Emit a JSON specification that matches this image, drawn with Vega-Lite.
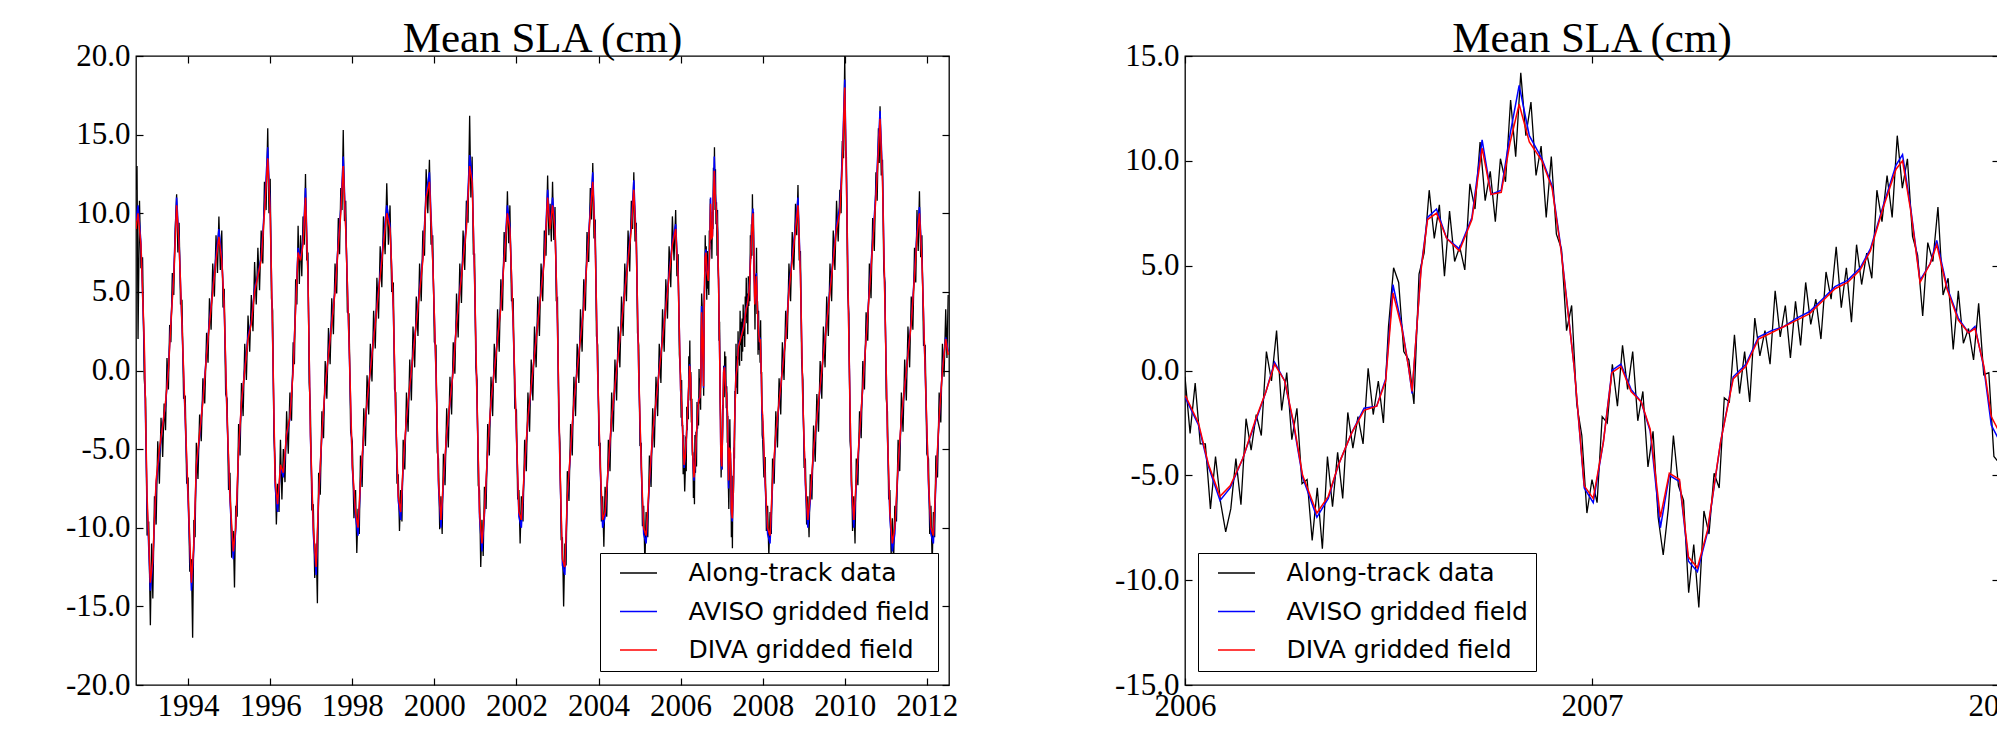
{
"$schema":"https://vega.github.io/schema/vega-lite/v6.json",
"background":"white",
"padding":{"left":64,"top":17,"right":0,"bottom":0},
"datasets":{
"rk":[{"t":2006.0,"v":-0.3},{"t":2006.0125,"v":-3.0},{"t":2006.025,"v":-0.6},{"t":2006.0375,"v":-3.5},{"t":2006.05,"v":-3.5},{"t":2006.0625,"v":-6.6},{"t":2006.075,"v":-4.1},{"t":2006.0875,"v":-6.3},{"t":2006.1,"v":-7.7},{"t":2006.1125,"v":-6.6},{"t":2006.125,"v":-4.2},{"t":2006.1375,"v":-6.4},{"t":2006.15,"v":-2.3},{"t":2006.1625,"v":-3.8},{"t":2006.175,"v":-2.1},{"t":2006.1875,"v":-3.1},{"t":2006.2,"v":0.9},{"t":2006.2125,"v":-0.5},{"t":2006.225,"v":1.9},{"t":2006.2375,"v":-1.9},{"t":2006.25,"v":-0.1},{"t":2006.2625,"v":-3.3},{"t":2006.275,"v":-1.8},{"t":2006.2875,"v":-5.4},{"t":2006.3,"v":-5.2},{"t":2006.3125,"v":-8.1},{"t":2006.325,"v":-5.6},{"t":2006.3375,"v":-8.5},{"t":2006.35,"v":-4.1},{"t":2006.3625,"v":-6.5},{"t":2006.375,"v":-3.9},{"t":2006.3875,"v":-6.1},{"t":2006.4,"v":-2.0},{"t":2006.4125,"v":-3.7},{"t":2006.425,"v":-2.2},{"t":2006.4375,"v":-3.5},{"t":2006.45,"v":0.1},{"t":2006.4625,"v":-2.1},{"t":2006.475,"v":-0.5},{"t":2006.4875,"v":-2.5},{"t":2006.5,"v":2.1},{"t":2006.5125,"v":4.9},{"t":2006.525,"v":4.2},{"t":2006.5375,"v":0.9},{"t":2006.55,"v":0.5},{"t":2006.5625,"v":-1.6},{"t":2006.575,"v":4.6},{"t":2006.5875,"v":5.6},{"t":2006.6,"v":8.6},{"t":2006.6125,"v":6.3},{"t":2006.625,"v":7.9},{"t":2006.6375,"v":4.5},{"t":2006.65,"v":7.6},{"t":2006.6625,"v":5.2},{"t":2006.675,"v":5.9},{"t":2006.6875,"v":4.8},{"t":2006.7,"v":8.9},{"t":2006.7125,"v":7.7},{"t":2006.725,"v":10.9},{"t":2006.7375,"v":8.1},{"t":2006.75,"v":9.5},{"t":2006.7625,"v":7.1},{"t":2006.775,"v":10.1},{"t":2006.7875,"v":9.0},{"t":2006.8,"v":12.9},{"t":2006.8125,"v":10.2},{"t":2006.825,"v":14.2},{"t":2006.8375,"v":11.2},{"t":2006.85,"v":12.8},{"t":2006.8625,"v":9.3},{"t":2006.875,"v":10.7},{"t":2006.8875,"v":7.3},{"t":2006.9,"v":10.2},{"t":2006.9125,"v":6.5},{"t":2006.925,"v":5.8},{"t":2006.9375,"v":1.9},{"t":2006.95,"v":3.1},{"t":2006.9625,"v":-1.6},{"t":2006.975,"v":-3.1},{"t":2006.9875,"v":-6.8},{"t":2007.0,"v":-5.2},{"t":2007.0125,"v":-6.3},{"t":2007.025,"v":-2.2},{"t":2007.0375,"v":-2.5},{"t":2007.05,"v":0.3},{"t":2007.0625,"v":-1.7},{"t":2007.075,"v":1.2},{"t":2007.0875,"v":-0.9},{"t":2007.1,"v":0.9},{"t":2007.1125,"v":-2.4},{"t":2007.125,"v":-1.0},{"t":2007.1375,"v":-4.6},{"t":2007.15,"v":-2.9},{"t":2007.1625,"v":-7.0},{"t":2007.175,"v":-8.8},{"t":2007.1875,"v":-6.6},{"t":2007.2,"v":-3.1},{"t":2007.2125,"v":-5.5},{"t":2007.225,"v":-6.2},{"t":2007.2375,"v":-10.6},{"t":2007.25,"v":-8.3},{"t":2007.2625,"v":-11.3},{"t":2007.275,"v":-6.7},{"t":2007.2875,"v":-7.8},{"t":2007.3,"v":-4.9},{"t":2007.3125,"v":-5.6},{"t":2007.325,"v":-1.3},{"t":2007.3375,"v":-1.5},{"t":2007.35,"v":1.7},{"t":2007.3625,"v":-1.1},{"t":2007.375,"v":0.9},{"t":2007.3875,"v":-1.5},{"t":2007.4,"v":2.5},{"t":2007.4125,"v":0.7},{"t":2007.425,"v":1.9},{"t":2007.4375,"v":0.3},{"t":2007.45,"v":3.8},{"t":2007.4625,"v":1.6},{"t":2007.475,"v":3.1},{"t":2007.4875,"v":0.6},{"t":2007.5,"v":3.3},{"t":2007.5125,"v":1.2},{"t":2007.525,"v":4.2},{"t":2007.5375,"v":2.2},{"t":2007.55,"v":3.4},{"t":2007.5625,"v":1.5},{"t":2007.575,"v":4.7},{"t":2007.5875,"v":3.4},{"t":2007.6,"v":5.9},{"t":2007.6125,"v":3.0},{"t":2007.625,"v":4.9},{"t":2007.6375,"v":2.3},{"t":2007.65,"v":6.0},{"t":2007.6625,"v":4.1},{"t":2007.675,"v":5.6},{"t":2007.6875,"v":4.4},{"t":2007.7,"v":8.6},{"t":2007.7125,"v":7.1},{"t":2007.725,"v":9.3},{"t":2007.7375,"v":7.3},{"t":2007.75,"v":11.2},{"t":2007.7625,"v":8.7},{"t":2007.775,"v":10.1},{"t":2007.7875,"v":6.4},{"t":2007.8,"v":5.5},{"t":2007.8125,"v":2.6},{"t":2007.825,"v":6.1},{"t":2007.8375,"v":5.2},{"t":2007.85,"v":7.8},{"t":2007.8625,"v":3.6},{"t":2007.875,"v":4.4},{"t":2007.8875,"v":1.0},{"t":2007.9,"v":3.8},{"t":2007.9125,"v":1.3},{"t":2007.925,"v":2.0},{"t":2007.9375,"v":0.5},{"t":2007.95,"v":3.2},{"t":2007.9625,"v":-0.2},{"t":2007.975,"v":-0.1},{"t":2007.9875,"v":-4.1},{"t":2008.0,"v":-4.4}],
"rs":[{"t":2006.001,"a":-1.3,"d":-1.2},{"t":2006.033,"a":-2.6,"d":-2.5},{"t":2006.058,"a":-4.6,"d":-4.5},{"t":2006.086,"a":-6.2,"d":-6.0},{"t":2006.111,"a":-5.6,"d":-5.5},{"t":2006.142,"a":-4.2,"d":-4.2},{"t":2006.174,"a":-2.4,"d":-2.3},{"t":2006.199,"a":-1.0,"d":-1.0},{"t":2006.22,"a":0.4,"d":0.3},{"t":2006.245,"a":-0.5,"d":-0.5},{"t":2006.267,"a":-2.6,"d":-2.5},{"t":2006.289,"a":-5.1,"d":-5.0},{"t":2006.324,"a":-7.0,"d":-6.8},{"t":2006.352,"a":-6.1,"d":-6.0},{"t":2006.377,"a":-4.5,"d":-4.5},{"t":2006.409,"a":-3.0,"d":-3.0},{"t":2006.44,"a":-1.8,"d":-1.9},{"t":2006.471,"a":-1.7,"d":-1.7},{"t":2006.493,"a":-0.4,"d":-0.5},{"t":2006.511,"a":4.1,"d":3.7},{"t":2006.533,"a":2.1,"d":2.0},{"t":2006.549,"a":0.2,"d":0.2},{"t":2006.558,"a":-1.1,"d":-1.0},{"t":2006.58,"a":4.9,"d":4.8},{"t":2006.596,"a":7.3,"d":7.2},{"t":2006.618,"a":7.7,"d":7.5},{"t":2006.643,"a":6.3,"d":6.3},{"t":2006.674,"a":5.8,"d":5.7},{"t":2006.705,"a":7.3,"d":7.2},{"t":2006.73,"a":11.0,"d":10.6},{"t":2006.752,"a":8.4,"d":8.4},{"t":2006.777,"a":8.6,"d":8.5},{"t":2006.799,"a":11.3,"d":10.9},{"t":2006.821,"a":13.6,"d":12.7},{"t":2006.846,"a":11.2,"d":10.9},{"t":2006.877,"a":10.1,"d":10.0},{"t":2006.902,"a":8.8,"d":8.7},{"t":2006.924,"a":5.8,"d":5.7},{"t":2006.956,"a":0.2,"d":0.2},{"t":2006.981,"a":-5.6,"d":-5.5},{"t":2007.003,"a":-6.3,"d":-6.1},{"t":2007.028,"a":-3.4,"d":-3.4},{"t":2007.049,"a":0.0,"d":-0.1},{"t":2007.071,"a":0.3,"d":0.2},{"t":2007.096,"a":-0.9,"d":-1.0},{"t":2007.121,"a":-1.5,"d":-1.5},{"t":2007.143,"a":-2.9,"d":-2.8},{"t":2007.168,"a":-7.5,"d":-7.0},{"t":2007.19,"a":-5.0,"d":-4.9},{"t":2007.215,"a":-5.3,"d":-5.2},{"t":2007.237,"a":-9.1,"d":-8.9},{"t":2007.259,"a":-9.6,"d":-9.4},{"t":2007.284,"a":-7.7,"d":-7.6},{"t":2007.316,"a":-3.4,"d":-3.4},{"t":2007.347,"a":-0.3,"d":-0.4},{"t":2007.378,"a":0.3,"d":0.2},{"t":2007.409,"a":1.6,"d":1.5},{"t":2007.441,"a":1.9,"d":1.8},{"t":2007.472,"a":2.1,"d":2.1},{"t":2007.503,"a":2.5,"d":2.4},{"t":2007.534,"a":2.8,"d":2.7},{"t":2007.566,"a":3.4,"d":3.3},{"t":2007.597,"a":4.0,"d":3.9},{"t":2007.628,"a":4.3,"d":4.2},{"t":2007.659,"a":4.9,"d":4.8},{"t":2007.684,"a":5.8,"d":5.7},{"t":2007.716,"a":7.9,"d":7.8},{"t":2007.747,"a":9.8,"d":9.6},{"t":2007.763,"a":10.3,"d":10.0},{"t":2007.784,"a":7.6,"d":7.5},{"t":2007.806,"a":4.3,"d":4.2},{"t":2007.831,"a":5.1,"d":5.1},{"t":2007.847,"a":6.2,"d":6.0},{"t":2007.872,"a":4.0,"d":3.9},{"t":2007.9,"a":2.5,"d":2.4},{"t":2007.925,"a":1.8,"d":1.8},{"t":2007.941,"a":2.1,"d":2.0},{"t":2007.963,"a":0.1,"d":0.2},{"t":2007.981,"a":-2.6,"d":-2.2},{"t":2007.997,"a":-3.2,"d":-2.8}],
"ls":[{"t":1992.73,"a":9.5,"d":9},{"t":1992.78,"a":10.5,"d":10},{"t":1992.85,"a":8.2,"d":8},{"t":1992.93,"a":1.5,"d":2},{"t":1993.0,"a":-8.5,"d":-8},{"t":1993.08,"a":-14,"d":-13.5},{"t":1993.14,"a":-12.2,"d":-12},{"t":1993.22,"a":-7.2,"d":-7},{"t":1993.3,"a":-5.3,"d":-5},{"t":1993.38,"a":-3.4,"d":-3.5},{"t":1993.45,"a":-2.2,"d":-2},{"t":1993.52,"a":0.2,"d":0},{"t":1993.58,"a":3.1,"d":3},{"t":1993.65,"a":6.3,"d":6},{"t":1993.72,"a":11,"d":10.5},{"t":1993.78,"a":8.2,"d":8},{"t":1993.85,"a":2.8,"d":3},{"t":1993.93,"a":-3.3,"d":-3},{"t":1994.0,"a":-8.4,"d":-8},{"t":1994.08,"a":-14,"d":-13.5},{"t":1994.14,"a":-11.3,"d":-11},{"t":1994.2,"a":-6.2,"d":-6},{"t":1994.28,"a":-4.2,"d":-4},{"t":1994.36,"a":-1.8,"d":-2},{"t":1994.45,"a":1.1,"d":1},{"t":1994.52,"a":3.2,"d":3},{"t":1994.6,"a":5.1,"d":5},{"t":1994.68,"a":7.3,"d":7},{"t":1994.75,"a":9,"d":8.5},{"t":1994.82,"a":7.2,"d":7},{"t":1994.88,"a":3.8,"d":4},{"t":1994.95,"a":-3.2,"d":-3},{"t":1995.02,"a":-8.3,"d":-8},{"t":1995.1,"a":-12,"d":-11.5},{"t":1995.16,"a":-10.2,"d":-10},{"t":1995.23,"a":-5.2,"d":-5},{"t":1995.3,"a":-2.1,"d":-2},{"t":1995.38,"a":0.1,"d":0},{"t":1995.46,"a":2.2,"d":2},{"t":1995.54,"a":3.1,"d":3},{"t":1995.62,"a":5.2,"d":5},{"t":1995.7,"a":6.1,"d":6},{"t":1995.78,"a":7.2,"d":7},{"t":1995.86,"a":10.4,"d":10},{"t":1995.94,"a":14.2,"d":13.5},{"t":1996.0,"a":10.3,"d":10},{"t":1996.06,"a":1.8,"d":2},{"t":1996.12,"a":-7.4,"d":-7},{"t":1996.18,"a":-9,"d":-8.5},{"t":1996.25,"a":-6.1,"d":-6},{"t":1996.32,"a":-6.8,"d":-6.5},{"t":1996.4,"a":-4.1,"d":-4},{"t":1996.48,"a":-3.1,"d":-3},{"t":1996.56,"a":0.2,"d":0},{"t":1996.62,"a":4.1,"d":4},{"t":1996.68,"a":7.8,"d":7.5},{"t":1996.74,"a":7.1,"d":7},{"t":1996.8,"a":8.3,"d":8},{"t":1996.86,"a":11.6,"d":11},{"t":1996.92,"a":6.2,"d":6},{"t":1996.98,"a":-4.2,"d":-4},{"t":1997.05,"a":-10.4,"d":-10},{"t":1997.12,"a":-13,"d":-12.5},{"t":1997.18,"a":-8.2,"d":-8},{"t":1997.26,"a":-4.1,"d":-4},{"t":1997.34,"a":-1.1,"d":-1},{"t":1997.42,"a":1.1,"d":1},{"t":1997.5,"a":3.2,"d":3},{"t":1997.58,"a":5.1,"d":5},{"t":1997.66,"a":8.2,"d":8},{"t":1997.72,"a":10.3,"d":10},{"t":1997.78,"a":13.6,"d":13},{"t":1997.84,"a":9.2,"d":9},{"t":1997.92,"a":1.8,"d":2},{"t":1998.0,"a":-6.2,"d":-6},{"t":1998.08,"a":-9.3,"d":-9},{"t":1998.14,"a":-10.5,"d":-10},{"t":1998.2,"a":-7.2,"d":-7},{"t":1998.28,"a":-4.1,"d":-4},{"t":1998.36,"a":-2.1,"d":-2},{"t":1998.44,"a":0.1,"d":0},{"t":1998.52,"a":2.1,"d":2},{"t":1998.6,"a":4.1,"d":4},{"t":1998.68,"a":6.2,"d":6},{"t":1998.76,"a":8.3,"d":8},{"t":1998.84,"a":10.5,"d":10},{"t":1998.92,"a":9.2,"d":9},{"t":1999.0,"a":3.8,"d":4},{"t":1999.06,"a":-3.2,"d":-3},{"t":1999.12,"a":-8.3,"d":-8},{"t":1999.18,"a":-9.5,"d":-9},{"t":1999.24,"a":-6.2,"d":-6},{"t":1999.32,"a":-3.1,"d":-3},{"t":1999.4,"a":-1.1,"d":-1},{"t":1999.48,"a":1.1,"d":1},{"t":1999.56,"a":3.1,"d":3},{"t":1999.64,"a":5.2,"d":5},{"t":1999.72,"a":7.2,"d":7},{"t":1999.8,"a":11.3,"d":11},{"t":1999.88,"a":12.6,"d":12},{"t":1999.96,"a":7.1,"d":7},{"t":2000.04,"a":-0.2,"d":0},{"t":2000.1,"a":-7.3,"d":-7},{"t":2000.16,"a":-10,"d":-9.5},{"t":2000.22,"a":-7.2,"d":-7},{"t":2000.3,"a":-4.1,"d":-4},{"t":2000.38,"a":-2.1,"d":-2},{"t":2000.46,"a":0.1,"d":0},{"t":2000.54,"a":3.1,"d":3},{"t":2000.62,"a":5.1,"d":5},{"t":2000.7,"a":7.2,"d":7},{"t":2000.78,"a":9.3,"d":9},{"t":2000.86,"a":13.7,"d":13},{"t":2000.92,"a":12.4,"d":12},{"t":2000.98,"a":5.8,"d":6},{"t":2001.04,"a":-2.2,"d":-2},{"t":2001.1,"a":-9.3,"d":-9},{"t":2001.16,"a":-11.5,"d":-11},{"t":2001.22,"a":-9.2,"d":-9},{"t":2001.3,"a":-5.1,"d":-5},{"t":2001.38,"a":-2.1,"d":-2},{"t":2001.46,"a":0.1,"d":0},{"t":2001.54,"a":2.1,"d":2},{"t":2001.62,"a":4.1,"d":4},{"t":2001.7,"a":7.2,"d":7},{"t":2001.78,"a":10.5,"d":10},{"t":2001.84,"a":9.2,"d":9},{"t":2001.92,"a":2.8,"d":3},{"t":2002.0,"a":-4.2,"d":-4},{"t":2002.06,"a":-9.3,"d":-9},{"t":2002.12,"a":-10,"d":-9.5},{"t":2002.2,"a":-6.1,"d":-6},{"t":2002.28,"a":-3.1,"d":-3},{"t":2002.36,"a":-1.1,"d":-1},{"t":2002.44,"a":1.1,"d":1},{"t":2002.52,"a":3.1,"d":3},{"t":2002.6,"a":5.1,"d":5},{"t":2002.68,"a":7.2,"d":7},{"t":2002.76,"a":11.5,"d":11},{"t":2002.82,"a":9.1,"d":9},{"t":2002.88,"a":11,"d":10.5},{"t":2002.94,"a":9.2,"d":9},{"t":2003.0,"a":2.8,"d":3},{"t":2003.06,"a":-6.2,"d":-6},{"t":2003.12,"a":-12.4,"d":-12},{"t":2003.18,"a":-13,"d":-12.5},{"t":2003.24,"a":-8.2,"d":-8},{"t":2003.32,"a":-5.1,"d":-5},{"t":2003.4,"a":-2.1,"d":-2},{"t":2003.48,"a":0.1,"d":0},{"t":2003.56,"a":2.1,"d":2},{"t":2003.64,"a":4.1,"d":4},{"t":2003.72,"a":7.2,"d":7},{"t":2003.8,"a":10.3,"d":10},{"t":2003.86,"a":12.6,"d":12},{"t":2003.92,"a":8.2,"d":8},{"t":2003.98,"a":-0.2,"d":0},{"t":2004.04,"a":-6.2,"d":-6},{"t":2004.1,"a":-10,"d":-9.5},{"t":2004.16,"a":-9.3,"d":-9},{"t":2004.24,"a":-6.1,"d":-6},{"t":2004.32,"a":-3.1,"d":-3},{"t":2004.4,"a":-1.1,"d":-1},{"t":2004.48,"a":1.1,"d":1},{"t":2004.56,"a":3.1,"d":3},{"t":2004.64,"a":5.1,"d":5},{"t":2004.72,"a":7.2,"d":7},{"t":2004.8,"a":9.3,"d":9},{"t":2004.86,"a":12.1,"d":11.5},{"t":2004.92,"a":8.2,"d":8},{"t":2004.98,"a":-0.2,"d":0},{"t":2005.04,"a":-6.2,"d":-6},{"t":2005.1,"a":-10.4,"d":-10},{"t":2005.16,"a":-11,"d":-10.5},{"t":2005.24,"a":-7.2,"d":-7},{"t":2005.32,"a":-4.1,"d":-4},{"t":2005.4,"a":-2.1,"d":-2},{"t":2005.48,"a":0.1,"d":0},{"t":2005.56,"a":2.1,"d":2},{"t":2005.64,"a":4.1,"d":4},{"t":2005.72,"a":6.2,"d":6},{"t":2005.8,"a":8.2,"d":8},{"t":2005.88,"a":9.3,"d":9},{"t":2005.94,"a":6.1,"d":6},{"t":2006.001,"a":-1.3,"d":-1.2},
{"t":2008.0,"a":-3.2,"d":-2.8},{"t":2008.06,"a":-7.3,"d":-7},{"t":2008.12,"a":-10.4,"d":-10},{"t":2008.18,"a":-11,"d":-10.5},{"t":2008.24,"a":-7.3,"d":-7},{"t":2008.32,"a":-4.1,"d":-4},{"t":2008.4,"a":-2.1,"d":-2},{"t":2008.48,"a":0.1,"d":0},{"t":2008.56,"a":2.1,"d":2},{"t":2008.64,"a":5.2,"d":5},{"t":2008.72,"a":7.3,"d":7},{"t":2008.8,"a":9.3,"d":9},{"t":2008.86,"a":11,"d":10.5},{"t":2008.92,"a":6.2,"d":6},{"t":2008.98,"a":-2.2,"d":-2},{"t":2009.04,"a":-7.3,"d":-7},{"t":2009.1,"a":-10,"d":-9.5},{"t":2009.16,"a":-8.3,"d":-8},{"t":2009.24,"a":-5.1,"d":-5},{"t":2009.32,"a":-3.1,"d":-3},{"t":2009.4,"a":-1.1,"d":-1},{"t":2009.48,"a":1.1,"d":1},{"t":2009.56,"a":3.1,"d":3},{"t":2009.64,"a":5.2,"d":5},{"t":2009.72,"a":7.2,"d":7},{"t":2009.8,"a":9.3,"d":9},{"t":2009.88,"a":10.4,"d":10},{"t":2009.94,"a":13.6,"d":13},{"t":2010.0,"a":18.5,"d":18},{"t":2010.04,"a":12.5,"d":12},{"t":2010.1,"a":2.2,"d":2},{"t":2010.16,"a":-7.3,"d":-7},{"t":2010.22,"a":-10,"d":-9.5},{"t":2010.28,"a":-7.3,"d":-7},{"t":2010.36,"a":-4.1,"d":-4},{"t":2010.44,"a":-1.1,"d":-1},{"t":2010.52,"a":2.1,"d":2},{"t":2010.6,"a":5.2,"d":5},{"t":2010.68,"a":8.3,"d":8},{"t":2010.76,"a":11.4,"d":11},{"t":2010.82,"a":14.6,"d":14},{"t":2010.86,"a":16.5,"d":16},{"t":2010.92,"a":12.4,"d":12},{"t":2010.98,"a":4.2,"d":4},{"t":2011.04,"a":-4.2,"d":-4},{"t":2011.1,"a":-9.4,"d":-9},{"t":2011.16,"a":-11.5,"d":-11},{"t":2011.22,"a":-10.4,"d":-10},{"t":2011.3,"a":-6.2,"d":-6},{"t":2011.38,"a":-3.1,"d":-3},{"t":2011.46,"a":-1.1,"d":-1},{"t":2011.54,"a":1.1,"d":1},{"t":2011.62,"a":3.1,"d":3},{"t":2011.7,"a":6.2,"d":6},{"t":2011.76,"a":8.8,"d":8.5},{"t":2011.82,"a":10.4,"d":10},{"t":2011.88,"a":7.2,"d":7},{"t":2011.96,"a":-0.2,"d":0},{"t":2012.04,"a":-7.3,"d":-7},{"t":2012.1,"a":-10.4,"d":-10},{"t":2012.16,"a":-11,"d":-10.5},{"t":2012.22,"a":-7.3,"d":-7},{"t":2012.3,"a":-3.1,"d":-3},{"t":2012.38,"a":0.1,"d":0},{"t":2012.46,"a":2.1,"d":2},{"t":2012.52,"a":1.2,"d":1}],
"lk":[{"t":1992.73,"v":11.5},{"t":1992.755,"v":13.0},{"t":1992.78,"v":2.0},{"t":1992.815,"v":10.8},{"t":1992.85,"v":6.5},{"t":1992.89,"v":7.2},{"t":1992.93,"v":-0.5},{"t":1992.965,"v":-1.8},{"t":1993.0,"v":-10.5},{"t":1993.04,"v":-9.6},{"t":1993.08,"v":-16.2},{"t":1993.11,"v":-11.0},{"t":1993.14,"v":-14.5},{"t":1993.18,"v":-8.0},{"t":1993.22,"v":-9.8},{"t":1993.26,"v":-4.5},{"t":1993.3,"v":-7.2},{"t":1993.34,"v":-3.0},{"t":1993.38,"v":-5.5},{"t":1993.415,"v":-2.1},{"t":1993.45,"v":-3.8},{"t":1993.485,"v":0.8},{"t":1993.52,"v":-1.2},{"t":1993.55,"v":2.9},{"t":1993.58,"v":1.8},{"t":1993.615,"v":6.2},{"t":1993.65,"v":4.8},{"t":1993.685,"v":9.0},{"t":1993.72,"v":11.2},{"t":1993.75,"v":7.5},{"t":1993.78,"v":9.4},{"t":1993.815,"v":4.2},{"t":1993.85,"v":4.5},{"t":1993.89,"v":-1.8},{"t":1993.93,"v":-1.6},{"t":1993.965,"v":-7.2},{"t":1994.0,"v":-6.8},{"t":1994.04,"v":-12.8},{"t":1994.08,"v":-12.0},{"t":1994.11,"v":-17.0},{"t":1994.14,"v":-9.5},{"t":1994.17,"v":-10.6},{"t":1994.2,"v":-4.6},{"t":1994.24,"v":-6.9},{"t":1994.28,"v":-2.8},{"t":1994.32,"v":-4.5},{"t":1994.36,"v":-0.5},{"t":1994.405,"v":-2.1},{"t":1994.45,"v":2.4},{"t":1994.485,"v":0.5},{"t":1994.52,"v":4.6},{"t":1994.56,"v":2.6},{"t":1994.6,"v":6.8},{"t":1994.64,"v":4.7},{"t":1994.68,"v":8.6},{"t":1994.715,"v":6.2},{"t":1994.75,"v":9.8},{"t":1994.785,"v":6.4},{"t":1994.82,"v":8.9},{"t":1994.85,"v":4.0},{"t":1994.88,"v":5.2},{"t":1994.915,"v":-1.5},{"t":1994.95,"v":-1.8},{"t":1994.985,"v":-7.6},{"t":1995.02,"v":-6.5},{"t":1995.06,"v":-11.9},{"t":1995.1,"v":-10.2},{"t":1995.13,"v":-13.8},{"t":1995.16,"v":-8.6},{"t":1995.195,"v":-9.3},{"t":1995.23,"v":-3.4},{"t":1995.265,"v":-5.4},{"t":1995.3,"v":-0.8},{"t":1995.34,"v":-2.9},{"t":1995.38,"v":1.7},{"t":1995.42,"v":-0.6},{"t":1995.46,"v":3.5},{"t":1995.5,"v":1.2},{"t":1995.54,"v":4.8},{"t":1995.58,"v":2.5},{"t":1995.62,"v":6.9},{"t":1995.66,"v":4.2},{"t":1995.7,"v":7.8},{"t":1995.74,"v":5.1},{"t":1995.78,"v":8.9},{"t":1995.82,"v":6.8},{"t":1995.86,"v":12.0},{"t":1995.9,"v":10.2},{"t":1995.94,"v":15.4},{"t":1995.97,"v":10.0},{"t":1996.0,"v":12.2},{"t":1996.03,"v":4.6},{"t":1996.06,"v":3.8},{"t":1996.09,"v":-4.2},{"t":1996.12,"v":-5.8},{"t":1996.15,"v":-9.8},{"t":1996.18,"v":-7.2},{"t":1996.215,"v":-9.0},{"t":1996.25,"v":-4.4},{"t":1996.285,"v":-8.2},{"t":1996.32,"v":-5.0},{"t":1996.36,"v":-7.1},{"t":1996.4,"v":-2.6},{"t":1996.44,"v":-5.3},{"t":1996.48,"v":-1.4},{"t":1996.52,"v":-3.2},{"t":1996.56,"v":1.8},{"t":1996.59,"v":0.4},{"t":1996.62,"v":5.8},{"t":1996.65,"v":4.2},{"t":1996.68,"v":9.2},{"t":1996.71,"v":5.5},{"t":1996.74,"v":8.6},{"t":1996.77,"v":6.0},{"t":1996.8,"v":9.8},{"t":1996.83,"v":8.0},{"t":1996.86,"v":12.5},{"t":1996.89,"v":7.0},{"t":1996.92,"v":7.5},{"t":1996.95,"v":-0.8},{"t":1996.98,"v":-2.5},{"t":1997.015,"v":-8.9},{"t":1997.05,"v":-8.5},{"t":1997.085,"v":-13.2},{"t":1997.12,"v":-11.0},{"t":1997.15,"v":-14.8},{"t":1997.18,"v":-6.5},{"t":1997.22,"v":-7.9},{"t":1997.26,"v":-2.6},{"t":1997.3,"v":-4.3},{"t":1997.34,"v":0.6},{"t":1997.38,"v":-1.8},{"t":1997.42,"v":2.7},{"t":1997.46,"v":0.4},{"t":1997.5,"v":4.6},{"t":1997.54,"v":2.3},{"t":1997.58,"v":6.8},{"t":1997.62,"v":4.9},{"t":1997.66,"v":9.7},{"t":1997.69,"v":7.4},{"t":1997.72,"v":11.6},{"t":1997.75,"v":10.2},{"t":1997.78,"v":15.3},{"t":1997.81,"v":9.5},{"t":1997.84,"v":10.8},{"t":1997.88,"v":3.7},{"t":1997.92,"v":3.6},{"t":1997.96,"v":-3.9},{"t":1998.0,"v":-4.5},{"t":1998.04,"v":-9.4},{"t":1998.08,"v":-7.6},{"t":1998.11,"v":-11.6},{"t":1998.14,"v":-8.8},{"t":1998.17,"v":-10.4},{"t":1998.2,"v":-5.4},{"t":1998.24,"v":-7.4},{"t":1998.28,"v":-2.4},{"t":1998.32,"v":-4.8},{"t":1998.36,"v":-0.3},{"t":1998.4,"v":-2.8},{"t":1998.44,"v":1.7},{"t":1998.48,"v":-0.7},{"t":1998.52,"v":3.8},{"t":1998.56,"v":1.4},{"t":1998.6,"v":5.9},{"t":1998.64,"v":3.3},{"t":1998.68,"v":7.9},{"t":1998.72,"v":5.3},{"t":1998.76,"v":9.8},{"t":1998.8,"v":7.4},{"t":1998.84,"v":11.9},{"t":1998.88,"v":8.0},{"t":1998.92,"v":10.5},{"t":1998.96,"v":5.0},{"t":1999.0,"v":5.6},{"t":1999.03,"v":-1.2},{"t":1999.06,"v":-1.4},{"t":1999.09,"v":-7.2},{"t":1999.12,"v":-6.6},{"t":1999.15,"v":-10.2},{"t":1999.18,"v":-7.6},{"t":1999.21,"v":-9.6},{"t":1999.24,"v":-4.4},{"t":1999.28,"v":-6.3},{"t":1999.32,"v":-1.4},{"t":1999.36,"v":-3.9},{"t":1999.4,"v":0.7},{"t":1999.44,"v":-1.9},{"t":1999.48,"v":2.8},{"t":1999.52,"v":0.2},{"t":1999.56,"v":4.7},{"t":1999.6,"v":2.2},{"t":1999.64,"v":6.8},{"t":1999.68,"v":4.4},{"t":1999.72,"v":8.9},{"t":1999.76,"v":7.3},{"t":1999.8,"v":12.8},{"t":1999.84,"v":10.0},{"t":1999.88,"v":13.4},{"t":1999.92,"v":8.0},{"t":1999.96,"v":8.6},{"t":2000.0,"v":1.8},{"t":2000.04,"v":1.6},{"t":2000.07,"v":-5.2},{"t":2000.1,"v":-5.6},{"t":2000.13,"v":-10.1},{"t":2000.16,"v":-8.0},{"t":2000.19,"v":-10.4},{"t":2000.22,"v":-5.3},{"t":2000.26,"v":-7.3},{"t":2000.3,"v":-2.4},{"t":2000.34,"v":-4.9},{"t":2000.38,"v":-0.4},{"t":2000.42,"v":-2.8},{"t":2000.46,"v":1.8},{"t":2000.5,"v":-0.2},{"t":2000.54,"v":4.9},{"t":2000.58,"v":2.1},{"t":2000.62,"v":6.8},{"t":2000.66,"v":4.3},{"t":2000.7,"v":8.9},{"t":2000.74,"v":6.4},{"t":2000.78,"v":10.8},{"t":2000.82,"v":9.4},{"t":2000.86,"v":16.2},{"t":2000.89,"v":11.0},{"t":2000.92,"v":13.6},{"t":2000.95,"v":7.4},{"t":2000.98,"v":7.4},{"t":2001.01,"v":0.2},{"t":2001.04,"v":-0.6},{"t":2001.07,"v":-7.3},{"t":2001.1,"v":-7.6},{"t":2001.13,"v":-12.5},{"t":2001.16,"v":-9.5},{"t":2001.19,"v":-11.8},{"t":2001.22,"v":-7.4},{"t":2001.26,"v":-8.8},{"t":2001.3,"v":-3.4},{"t":2001.34,"v":-5.4},{"t":2001.38,"v":-0.4},{"t":2001.42,"v":-2.9},{"t":2001.46,"v":1.7},{"t":2001.5,"v":-0.8},{"t":2001.54,"v":3.9},{"t":2001.58,"v":1.2},{"t":2001.62,"v":5.8},{"t":2001.66,"v":3.8},{"t":2001.7,"v":8.8},{"t":2001.74,"v":6.9},{"t":2001.78,"v":11.4},{"t":2001.81,"v":8.1},{"t":2001.84,"v":10.5},{"t":2001.88,"v":4.4},{"t":2001.92,"v":4.6},{"t":2001.96,"v":-2.4},{"t":2002.0,"v":-2.5},{"t":2002.03,"v":-8.2},{"t":2002.06,"v":-7.6},{"t":2002.09,"v":-11.0},{"t":2002.12,"v":-8.0},{"t":2002.16,"v":-9.6},{"t":2002.2,"v":-4.4},{"t":2002.24,"v":-6.4},{"t":2002.28,"v":-1.4},{"t":2002.32,"v":-3.9},{"t":2002.36,"v":0.7},{"t":2002.4,"v":-1.9},{"t":2002.44,"v":2.8},{"t":2002.48,"v":0.2},{"t":2002.52,"v":4.7},{"t":2002.56,"v":2.2},{"t":2002.6,"v":6.8},{"t":2002.64,"v":4.4},{"t":2002.68,"v":8.9},{"t":2002.72,"v":7.3},{"t":2002.76,"v":12.4},{"t":2002.79,"v":8.6},{"t":2002.82,"v":10.6},{"t":2002.85,"v":8.2},{"t":2002.88,"v":12.0},{"t":2002.91,"v":8.3},{"t":2002.94,"v":10.4},{"t":2002.97,"v":4.5},{"t":2003.0,"v":4.6},{"t":2003.03,"v":-3.2},{"t":2003.06,"v":-4.6},{"t":2003.09,"v":-10.8},{"t":2003.12,"v":-10.6},{"t":2003.15,"v":-15.0},{"t":2003.18,"v":-11.0},{"t":2003.21,"v":-12.4},{"t":2003.24,"v":-6.4},{"t":2003.28,"v":-8.3},{"t":2003.32,"v":-3.4},{"t":2003.36,"v":-5.4},{"t":2003.4,"v":-0.4},{"t":2003.44,"v":-2.9},{"t":2003.48,"v":1.7},{"t":2003.52,"v":-0.8},{"t":2003.56,"v":3.9},{"t":2003.6,"v":1.2},{"t":2003.64,"v":5.8},{"t":2003.68,"v":3.8},{"t":2003.72,"v":8.8},{"t":2003.76,"v":6.9},{"t":2003.8,"v":11.6},{"t":2003.83,"v":9.6},{"t":2003.86,"v":13.2},{"t":2003.89,"v":8.4},{"t":2003.92,"v":9.6},{"t":2003.95,"v":2.2},{"t":2003.98,"v":1.6},{"t":2004.01,"v":-4.8},{"t":2004.04,"v":-4.6},{"t":2004.07,"v":-9.6},{"t":2004.1,"v":-8.0},{"t":2004.13,"v":-11.2},{"t":2004.16,"v":-7.4},{"t":2004.2,"v":-9.3},{"t":2004.24,"v":-4.4},{"t":2004.28,"v":-6.4},{"t":2004.32,"v":-1.4},{"t":2004.36,"v":-3.9},{"t":2004.4,"v":0.7},{"t":2004.44,"v":-1.9},{"t":2004.48,"v":2.8},{"t":2004.52,"v":0.2},{"t":2004.56,"v":4.7},{"t":2004.6,"v":2.2},{"t":2004.64,"v":6.8},{"t":2004.68,"v":4.4},{"t":2004.72,"v":8.9},{"t":2004.76,"v":6.3},{"t":2004.8,"v":10.8},{"t":2004.83,"v":9.0},{"t":2004.86,"v":12.6},{"t":2004.89,"v":8.2},{"t":2004.92,"v":9.4},{"t":2004.95,"v":2.4},{"t":2004.98,"v":1.6},{"t":2005.01,"v":-4.8},{"t":2005.04,"v":-4.6},{"t":2005.07,"v":-9.9},{"t":2005.1,"v":-8.6},{"t":2005.13,"v":-12.3},{"t":2005.16,"v":-9.0},{"t":2005.2,"v":-10.6},{"t":2005.24,"v":-5.4},{"t":2005.28,"v":-7.4},{"t":2005.32,"v":-2.4},{"t":2005.36,"v":-4.9},{"t":2005.4,"v":-0.4},{"t":2005.44,"v":-2.9},{"t":2005.48,"v":1.7},{"t":2005.52,"v":-0.8},{"t":2005.56,"v":3.9},{"t":2005.6,"v":1.2},{"t":2005.64,"v":5.8},{"t":2005.68,"v":3.3},{"t":2005.72,"v":7.9},{"t":2005.76,"v":5.3},{"t":2005.8,"v":9.8},{"t":2005.84,"v":7.0},{"t":2005.88,"v":10.2},{"t":2005.91,"v":6.0},{"t":2005.94,"v":7.4},{"t":2005.97,"v":1.0},{"t":2006.0,"v":-0.3},
{"t":2008.0,"v":-4.4},{"t":2008.03,"v":-6.8},{"t":2008.06,"v":-5.5},{"t":2008.09,"v":-10.2},{"t":2008.12,"v":-8.6},{"t":2008.15,"v":-11.8},{"t":2008.18,"v":-9.0},{"t":2008.21,"v":-10.4},{"t":2008.24,"v":-5.6},{"t":2008.28,"v":-7.2},{"t":2008.32,"v":-2.6},{"t":2008.36,"v":-4.9},{"t":2008.4,"v":-0.5},{"t":2008.44,"v":-2.8},{"t":2008.48,"v":1.8},{"t":2008.52,"v":-0.6},{"t":2008.56,"v":3.8},{"t":2008.6,"v":2.0},{"t":2008.64,"v":6.8},{"t":2008.68,"v":4.4},{"t":2008.72,"v":8.8},{"t":2008.76,"v":6.4},{"t":2008.8,"v":10.6},{"t":2008.83,"v":8.6},{"t":2008.86,"v":11.8},{"t":2008.89,"v":7.0},{"t":2008.92,"v":7.6},{"t":2008.95,"v":0.5},{"t":2008.98,"v":-0.6},{"t":2009.01,"v":-6.2},{"t":2009.04,"v":-5.6},{"t":2009.07,"v":-9.8},{"t":2009.1,"v":-8.0},{"t":2009.13,"v":-10.6},{"t":2009.16,"v":-6.6},{"t":2009.2,"v":-8.2},{"t":2009.24,"v":-3.5},{"t":2009.28,"v":-5.8},{"t":2009.32,"v":-1.5},{"t":2009.36,"v":-3.9},{"t":2009.4,"v":0.6},{"t":2009.44,"v":-1.8},{"t":2009.48,"v":2.8},{"t":2009.52,"v":0.2},{"t":2009.56,"v":4.7},{"t":2009.6,"v":2.2},{"t":2009.64,"v":6.8},{"t":2009.68,"v":4.4},{"t":2009.72,"v":8.9},{"t":2009.76,"v":6.4},{"t":2009.8,"v":10.8},{"t":2009.84,"v":8.2},{"t":2009.88,"v":11.5},{"t":2009.91,"v":10.0},{"t":2009.94,"v":14.6},{"t":2009.97,"v":13.5},{"t":2010.0,"v":20.0},{"t":2010.02,"v":14.0},{"t":2010.04,"v":13.6},{"t":2010.07,"v":5.0},{"t":2010.1,"v":3.6},{"t":2010.13,"v":-4.5},{"t":2010.16,"v":-5.6},{"t":2010.19,"v":-10.2},{"t":2010.22,"v":-8.0},{"t":2010.25,"v":-11.0},{"t":2010.28,"v":-5.6},{"t":2010.32,"v":-7.3},{"t":2010.36,"v":-2.6},{"t":2010.4,"v":-4.3},{"t":2010.44,"v":0.6},{"t":2010.48,"v":-1.2},{"t":2010.52,"v":3.7},{"t":2010.56,"v":1.9},{"t":2010.6,"v":6.8},{"t":2010.64,"v":4.6},{"t":2010.68,"v":9.7},{"t":2010.72,"v":7.6},{"t":2010.76,"v":12.6},{"t":2010.79,"v":10.8},{"t":2010.82,"v":15.4},{"t":2010.84,"v":13.2},{"t":2010.86,"v":16.8},{"t":2010.89,"v":12.4},{"t":2010.92,"v":13.4},{"t":2010.95,"v":6.4},{"t":2010.98,"v":5.6},{"t":2011.01,"v":-1.8},{"t":2011.04,"v":-2.6},{"t":2011.07,"v":-8.2},{"t":2011.1,"v":-7.6},{"t":2011.13,"v":-11.8},{"t":2011.16,"v":-9.4},{"t":2011.19,"v":-12.2},{"t":2011.22,"v":-8.6},{"t":2011.26,"v":-9.6},{"t":2011.3,"v":-4.4},{"t":2011.34,"v":-6.4},{"t":2011.38,"v":-1.4},{"t":2011.42,"v":-3.9},{"t":2011.46,"v":0.7},{"t":2011.5,"v":-1.9},{"t":2011.54,"v":2.8},{"t":2011.58,"v":0.2},{"t":2011.62,"v":4.7},{"t":2011.66,"v":2.6},{"t":2011.7,"v":7.8},{"t":2011.73,"v":5.6},{"t":2011.76,"v":10.2},{"t":2011.79,"v":7.6},{"t":2011.82,"v":11.4},{"t":2011.85,"v":7.2},{"t":2011.88,"v":8.6},{"t":2011.92,"v":1.6},{"t":2011.96,"v":1.6},{"t":2012.0,"v":-5.3},{"t":2012.04,"v":-5.6},{"t":2012.07,"v":-10.4},{"t":2012.1,"v":-8.6},{"t":2012.13,"v":-12.3},{"t":2012.16,"v":-9.0},{"t":2012.19,"v":-10.6},{"t":2012.22,"v":-5.4},{"t":2012.26,"v":-6.8},{"t":2012.3,"v":-1.4},{"t":2012.34,"v":-3.3},{"t":2012.38,"v":1.7},{"t":2012.42,"v":-0.4},{"t":2012.46,"v":3.9},{"t":2012.49,"v":0.8},{"t":2012.52,"v":4.8}]
},
"spacing":236,
"bounds":"flush",
"resolve":{"scale":{"color":"independent"},"legend":{"color":"independent"}},
"hconcat":[
{
"width":813,"height":629,
"title":{"text":"Mean SLA (cm)"},
"encoding":{"x":{"field":"t","type":"quantitative","scale":{"domain":[1992.73,2012.54],"nice":false,"zero":false},"axis":null}},
"layer":[
{"data":{"name":"lk"},"transform":[{"filter":"datum.t < 2007"}],"mark":{"type":"line","strokeWidth":1.3,"clip":true},
"encoding":{
"x":{"field":"t","type":"quantitative","scale":{"domain":[1992.73,2012.54],"nice":false,"zero":false},"axis":{"orient":"bottom","values":[1994,1996,1998,2000,2002,2004,2006,2008,2010,2012],"format":"d","title":null,"labelFlush":false,"labelOverlap":false}},
"y":{"field":"v","type":"quantitative","scale":{"domain":[-20,20],"nice":false,"zero":false},"axis":{"orient":"left","values":[-20,-15,-10,-5,0,5,10,15,20],"labelExpr":"(datum.value < 0 ? '-' : '') + format(abs(datum.value), '.1f')","title":null,"labelOverlap":false}},
"color":{"datum":"Along-track data","type":"nominal","scale":{"domain":["Along-track data","AVISO gridded field","DIVA gridded field"],"range":["#000000","#0000ff","#ff0000"]},"legend":{"orient":"none","legendX":464,"legendY":497,"title":null,"symbolType":"M0,0H4","symbolSize":342,"symbolStrokeWidth":1.5,"labelFont":"DejaVu Sans","labelFontSize":25,"labelColor":"black","labelLimit":500,"strokeColor":"black","fillColor":"white","padding":7.5,"rowPadding":12.5,"labelOffset":56,"cornerRadius":0}}}},
{"data":{"name":"lk"},"transform":[{"filter":"datum.t > 2007"}],"mark":{"type":"line","strokeWidth":1.3,"clip":true},
"encoding":{"y":{"field":"v","type":"quantitative","scale":{"domain":[-20,20],"nice":false,"zero":false},"axis":null},"color":{"datum":"Along-track data","type":"nominal"}}},
{"data":{"name":"rk"},"mark":{"type":"line","strokeWidth":1.3,"clip":true},
"encoding":{"y":{"field":"v","type":"quantitative","scale":{"domain":[-20,20],"nice":false,"zero":false},"axis":null},"color":{"datum":"Along-track data","type":"nominal"}}},
{"data":{"name":"ls"},"transform":[{"filter":"datum.t < 2007"}],"mark":{"type":"line","strokeWidth":1.5,"clip":true},
"encoding":{"y":{"field":"a","type":"quantitative","scale":{"domain":[-20,20],"nice":false,"zero":false},"axis":null},"color":{"datum":"AVISO gridded field","type":"nominal"}}},
{"data":{"name":"ls"},"transform":[{"filter":"datum.t > 2007"}],"mark":{"type":"line","strokeWidth":1.5,"clip":true},
"encoding":{"y":{"field":"a","type":"quantitative","scale":{"domain":[-20,20],"nice":false,"zero":false},"axis":null},"color":{"datum":"AVISO gridded field","type":"nominal"}}},
{"data":{"name":"rs"},"mark":{"type":"line","strokeWidth":1.5,"clip":true},
"encoding":{"y":{"field":"a","type":"quantitative","scale":{"domain":[-20,20],"nice":false,"zero":false},"axis":null},"color":{"datum":"AVISO gridded field","type":"nominal"}}},
{"data":{"name":"ls"},"transform":[{"filter":"datum.t < 2007"}],"mark":{"type":"line","strokeWidth":1.5,"clip":true},
"encoding":{"y":{"field":"d","type":"quantitative","scale":{"domain":[-20,20],"nice":false,"zero":false},"axis":null},"color":{"datum":"DIVA gridded field","type":"nominal"}}},
{"data":{"name":"ls"},"transform":[{"filter":"datum.t > 2007"}],"mark":{"type":"line","strokeWidth":1.5,"clip":true},
"encoding":{"y":{"field":"d","type":"quantitative","scale":{"domain":[-20,20],"nice":false,"zero":false},"axis":null},"color":{"datum":"DIVA gridded field","type":"nominal"}}},
{"data":{"name":"rs"},"mark":{"type":"line","strokeWidth":1.5,"clip":true},
"encoding":{"y":{"field":"d","type":"quantitative","scale":{"domain":[-20,20],"nice":false,"zero":false},"axis":null},"color":{"datum":"DIVA gridded field","type":"nominal"}}},
{"data":{"name":"rk"},"mark":{"type":"line","strokeOpacity":0,"clip":true},
"encoding":{
"x":{"field":"t","type":"quantitative","scale":{"domain":[1992.73,2012.54],"nice":false,"zero":false},"axis":{"orient":"top","values":[1994,1996,1998,2000,2002,2004,2006,2008,2010,2012],"labels":false,"title":null}},
"y":{"field":"v","type":"quantitative","scale":{"domain":[-20,20],"nice":false,"zero":false},"axis":{"orient":"right","values":[-20,-15,-10,-5,0,5,10,15,20],"labels":false,"title":null}}}}
]
},
{
"width":814,"height":629,
"title":{"text":"Mean SLA (cm)"},
"encoding":{"x":{"field":"t","type":"quantitative","scale":{"domain":[2006,2008],"nice":false,"zero":false},"axis":null}},
"layer":[
{"data":{"name":"rk"},"mark":{"type":"line","strokeWidth":1.3,"clip":true},
"encoding":{
"x":{"field":"t","type":"quantitative","scale":{"domain":[2006,2008],"nice":false,"zero":false},"axis":{"orient":"bottom","tickCount":2,"tickMinStep":1,"format":"d","title":null,"labelFlush":false,"labelOverlap":false}},
"y":{"field":"v","type":"quantitative","scale":{"domain":[-15,15],"nice":false,"zero":false},"axis":{"orient":"left","values":[-15,-10,-5,0,5,10,15],"labelExpr":"(datum.value < 0 ? '-' : '') + format(abs(datum.value), '.1f')","title":null,"labelOverlap":false}},
"color":{"datum":"Along-track data","type":"nominal","scale":{"domain":["Along-track data","AVISO gridded field","DIVA gridded field"],"range":["#000000","#0000ff","#ff0000"]},"legend":{"orient":"none","legendX":13,"legendY":497,"title":null,"symbolType":"M0,0H4","symbolSize":342,"symbolStrokeWidth":1.5,"labelFont":"DejaVu Sans","labelFontSize":25,"labelColor":"black","labelLimit":500,"strokeColor":"black","fillColor":"white","padding":7.5,"rowPadding":12.5,"labelOffset":56,"cornerRadius":0}}}},
{"data":{"name":"rs"},"mark":{"type":"line","strokeWidth":1.5,"clip":true},
"encoding":{"y":{"field":"a","type":"quantitative","scale":{"domain":[-15,15],"nice":false,"zero":false},"axis":null},"color":{"datum":"AVISO gridded field","type":"nominal"}}},
{"data":{"name":"rs"},"mark":{"type":"line","strokeWidth":1.5,"clip":true},
"encoding":{"y":{"field":"d","type":"quantitative","scale":{"domain":[-15,15],"nice":false,"zero":false},"axis":null},"color":{"datum":"DIVA gridded field","type":"nominal"}}},
{"data":{"name":"rk"},"mark":{"type":"line","strokeOpacity":0,"clip":true},
"encoding":{
"x":{"field":"t","type":"quantitative","scale":{"domain":[2006,2008],"nice":false,"zero":false},"axis":{"orient":"top","tickCount":2,"tickMinStep":1,"labels":false,"title":null}},
"y":{"field":"v","type":"quantitative","scale":{"domain":[-15,15],"nice":false,"zero":false},"axis":{"orient":"right","values":[-15,-10,-5,0,5,10,15],"labels":false,"title":null}}}}
]
}
],
"config":{
"view":{"stroke":"black","strokeWidth":1.3},
"axis":{"grid":false,"domain":false,"ticks":true,"tickSize":-7,"tickWidth":1.2,"tickColor":"black","labelPadding":13,"labelFont":"Liberation Serif","labelFontSize":31,"labelColor":"black"},
"title":{"font":"Liberation Serif","fontSize":43,"fontWeight":"normal","color":"black","offset":-21,"anchor":"middle"}
}
}
